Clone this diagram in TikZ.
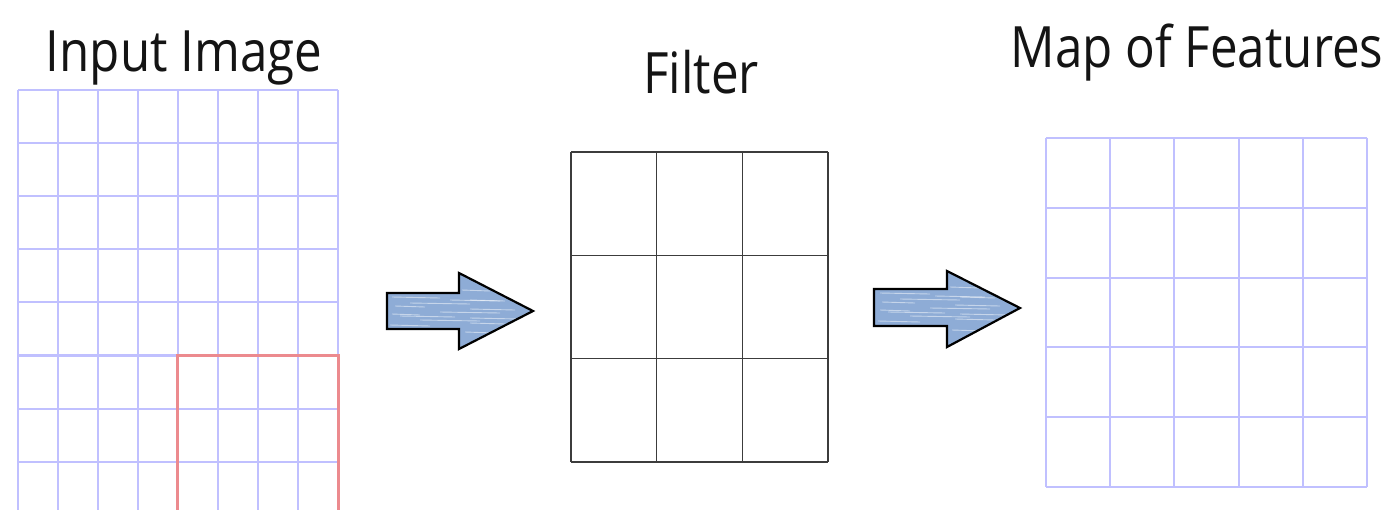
\documentclass[tikz,border=0pt]{standalone}
\usepackage{fontspec}
\setmainfont{Open Sans}[FakeStretch=0.865]
\begin{document}
\begin{tikzpicture}[x=1pt,y=-1pt,
  gridblue/.style={draw={rgb,255:red,192;green,192;blue,255},line width=2.1pt},
  gridblack/.style={draw={rgb,255:red,60;green,60;blue,60},line width=1.6pt},
  window/.style={draw={rgb,255:red,236;green,138;blue,142},line width=3pt},
  title/.style={font=\fontsize{57}{60}\selectfont,text={rgb,255:red,20;green,20;blue,20},inner sep=0pt,anchor=base},
  blockarrow/.style={fill={rgb,255:red,142;green,172;blue,214}},
  arrowline/.style={draw=black,line width=2.2pt,line join=miter},
  streak/.style={draw=white,opacity=0.5,line width=0.9pt}]
\useasboundingbox (0,0) rectangle (1389,509);
\fill[white] (0,0) rectangle (1389,509);
\begin{scope}
\clip (0,0) rectangle (1389,509);

% titles
\node[title] (tin)  at (184,71)   {Input Image};
\node[title] (tfil) at (701,93)   {Filter};
\node[title] (tmap) at (1197,67)  {Map of Features};

% input image: 8 columns, rows running past the lower edge
\foreach \i in {0,...,8} \draw[gridblue] (18+40*\i,90) -- (18+40*\i,520);
\foreach \j in {0,...,7} \draw[gridblue] (18,90+53.1*\j) -- (338,90+53.1*\j);
% sliding window
\draw[window] (177,520) -- (177,355) -- (338,355) -- (338,520);

% filter: 3x3
\foreach \i in {0,...,3} \draw[gridblack] (571+85.67*\i,152) -- (571+85.67*\i,462);
\foreach \j in {0,...,3} \draw[gridblack] (571,152+103.33*\j) -- (828,152+103.33*\j);

% feature map: 5x5
\foreach \i in {0,...,5} \draw[gridblue] (1046+64.2*\i,138) -- (1046+64.2*\i,487);
\foreach \j in {0,...,5} \draw[gridblue] (1046,138+69.8*\j) -- (1367,138+69.8*\j);

% block arrows with a chalky fill
\begin{scope}
  \fill[blockarrow] (387,293) -- (459,293) -- (459,273) -- (533,311) -- (459,349) -- (459,329) -- (387,329) -- cycle;
  \clip (387,293) -- (459,293) -- (459,273) -- (533,311) -- (459,349) -- (459,329) -- (387,329) -- cycle;
  \foreach \y/\a/\b in {297/392/440, 300/450/500, 303/410/470, 306/395/425, 309/470/515, 312/440/500, 314/392/420, 316/400/455, 320/420/480, 323/470/505, 325/390/430, 300/470/505, 318/470/520, 290/462/490, 332/465/495}
    \draw[streak] (\a,\y) -- (\b,\y+1);
\end{scope}
\draw[arrowline] (387,293) -- (459,293) -- (459,273) -- (533,311) -- (459,349) -- (459,329) -- (387,329) -- cycle;
\begin{scope}
  \fill[blockarrow] (874,289) -- (947,289) -- (947,271) -- (1020,308) -- (947,347) -- (947,326) -- (874,326) -- cycle;
  \clip (874,289) -- (947,289) -- (947,271) -- (1020,308) -- (947,347) -- (947,326) -- (874,326) -- cycle;
  \foreach \y/\a/\b in {293/880/930, 296/935/985, 299/900/960, 302/882/915, 305/955/1000, 308/930/990, 310/880/910, 312/888/945, 316/910/970, 319/955/995, 321/878/920, 297/960/995, 314/960/1008, 287/950/980, 330/952/985}
    \draw[streak] (\a,\y) -- (\b,\y+1);
\end{scope}
\draw[arrowline] (874,289) -- (947,289) -- (947,271) -- (1020,308) -- (947,347) -- (947,326) -- (874,326) -- cycle;
\end{scope}
\end{tikzpicture}
\end{document}
